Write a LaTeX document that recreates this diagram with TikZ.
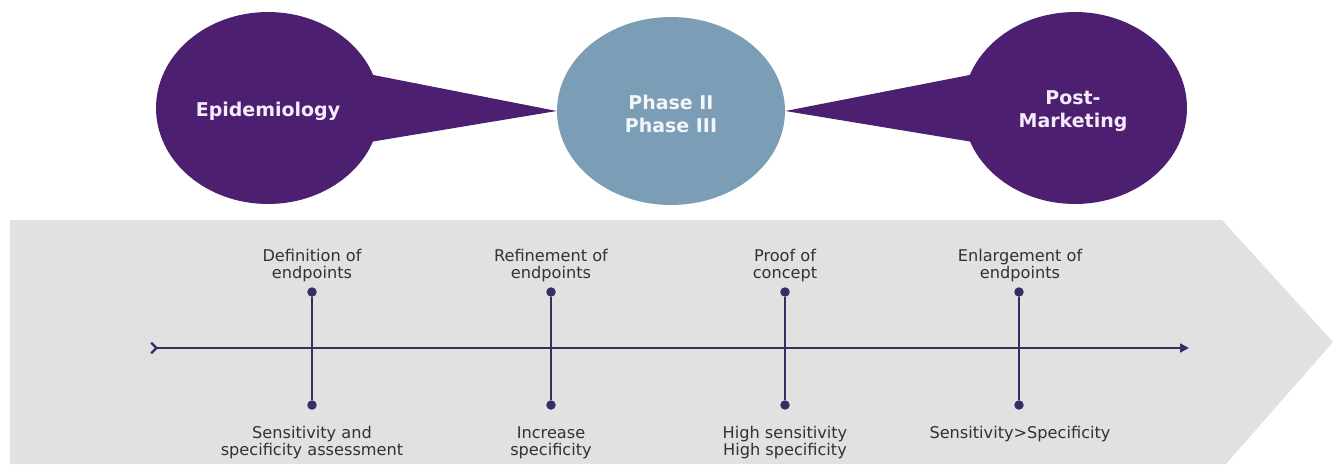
\documentclass[tikz,border=0pt]{standalone}
\usepackage{fontspec}
\setmainfont{DejaVu Sans}
\usetikzlibrary{shapes.geometric,arrows.meta,calc,backgrounds}
\definecolor{deeppurple}{RGB}{76,31,112}
\definecolor{steelblue}{RGB}{123,158,182}
\definecolor{bandgray}{RGB}{225,225,225}
\definecolor{linenavy}{RGB}{50,48,98}
\definecolor{labelgray}{RGB}{50,50,50}
\definecolor{lavwhite}{RGB}{244,236,250}
\definecolor{paleblue}{RGB}{242,246,249}

\begin{document}
\begin{tikzpicture}[x=0.02cm,y=-0.02cm,
  bubble/.style={ellipse, inner sep=0pt, minimum width=4.48cm, minimum height=3.84cm},
  purplebubble/.style={bubble, fill=deeppurple},
  bluebubble/.style={bubble, fill=steelblue, minimum width=4.56cm, minimum height=3.76cm},
  bubbletext/.style={font=\bfseries\fontsize{10.8}{13.2}\selectfont, align=center, inner sep=0pt},
  dot/.style={circle, fill=linenavy, inner sep=0pt, minimum size=5.4pt},
  stem/.style={draw=linenavy, line width=1.1pt},
  lbl/.style={font=\fontsize{9.2}{9.6}\selectfont, align=center, text=labelgray, inner sep=0pt},
  toplabel/.style={lbl, anchor=south},
  bottomlabel/.style={lbl, anchor=north}
]
\useasboundingbox (0,0) rectangle (1333,464);

% phase bubbles
\node[purplebubble] (epi) at (268,108) {};
\node[bluebubble] (phase) at (671,111) {};
\node[purplebubble] (post) at (1075,108) {};

\node[bubbletext, text=lavwhite] (epitext) at ($(epi.center)+(0,3)$) {Epidemiology};
\node[bubbletext, text=paleblue] (phasetext) at ($(phase.center)+(0,3)$) {Phase II\\Phase III};
\node[bubbletext, text=lavwhite] (posttext) at ($(post.center)+(-2,3)$) {Post-\\Marketing};

\begin{scope}[on background layer]
  % speech-bubble tails pointing at the central phase
  \fill[deeppurple] ($(epi.center)+(90,-36)$) -- (phase.west) -- ($(epi.center)+(90,36)$) -- cycle;
  \fill[deeppurple] ($(post.center)+(-90,-36)$) -- (phase.east) -- ($(post.center)+(-90,36)$) -- cycle;
  % grey chevron band
  \fill[bandgray] (10,220) -- (1222,220) -- (1333,342) -- (1226,464) -- (10,464) -- cycle;
\end{scope}

% timeline axis
\coordinate (tlstart) at (150,348);
\coordinate (tlend) at (1189,348);
\draw[stem, {Straight Barb[reversed,length=3pt,width=6pt,line width=1.3pt]}-{Triangle[length=5pt,width=5pt]}] (tlstart) -- (tlend);

% milestones
\foreach \x/\n in {312/1,551/2,785/3,1019/4} {
  \node[dot] (t\n) at (\x,292) {};
  \node[dot] (b\n) at (\x,405) {};
  \draw[stem] (t\n) -- (b\n);
}

\node[toplabel] (lt1) at (312,282) {Definition of\\endpoints};
\node[toplabel] (lt2) at (551,282) {Refinement of\\endpoints};
\node[toplabel] (lt3) at (785,282) {Proof of\\concept};
\node[toplabel] (lt4) at (1020,282) {Enlargement of\\endpoints};

\node[bottomlabel] (lb1) at (312,426) {Sensitivity and\\specificity assessment};
\node[bottomlabel] (lb2) at (551,426) {Increase\\specificity};
\node[bottomlabel] (lb3) at (785,426) {High sensitivity\\High specificity};
\node[bottomlabel] (lb4) at (1020,426) {Sensitivity>Specificity};
\end{tikzpicture}
\end{document}
